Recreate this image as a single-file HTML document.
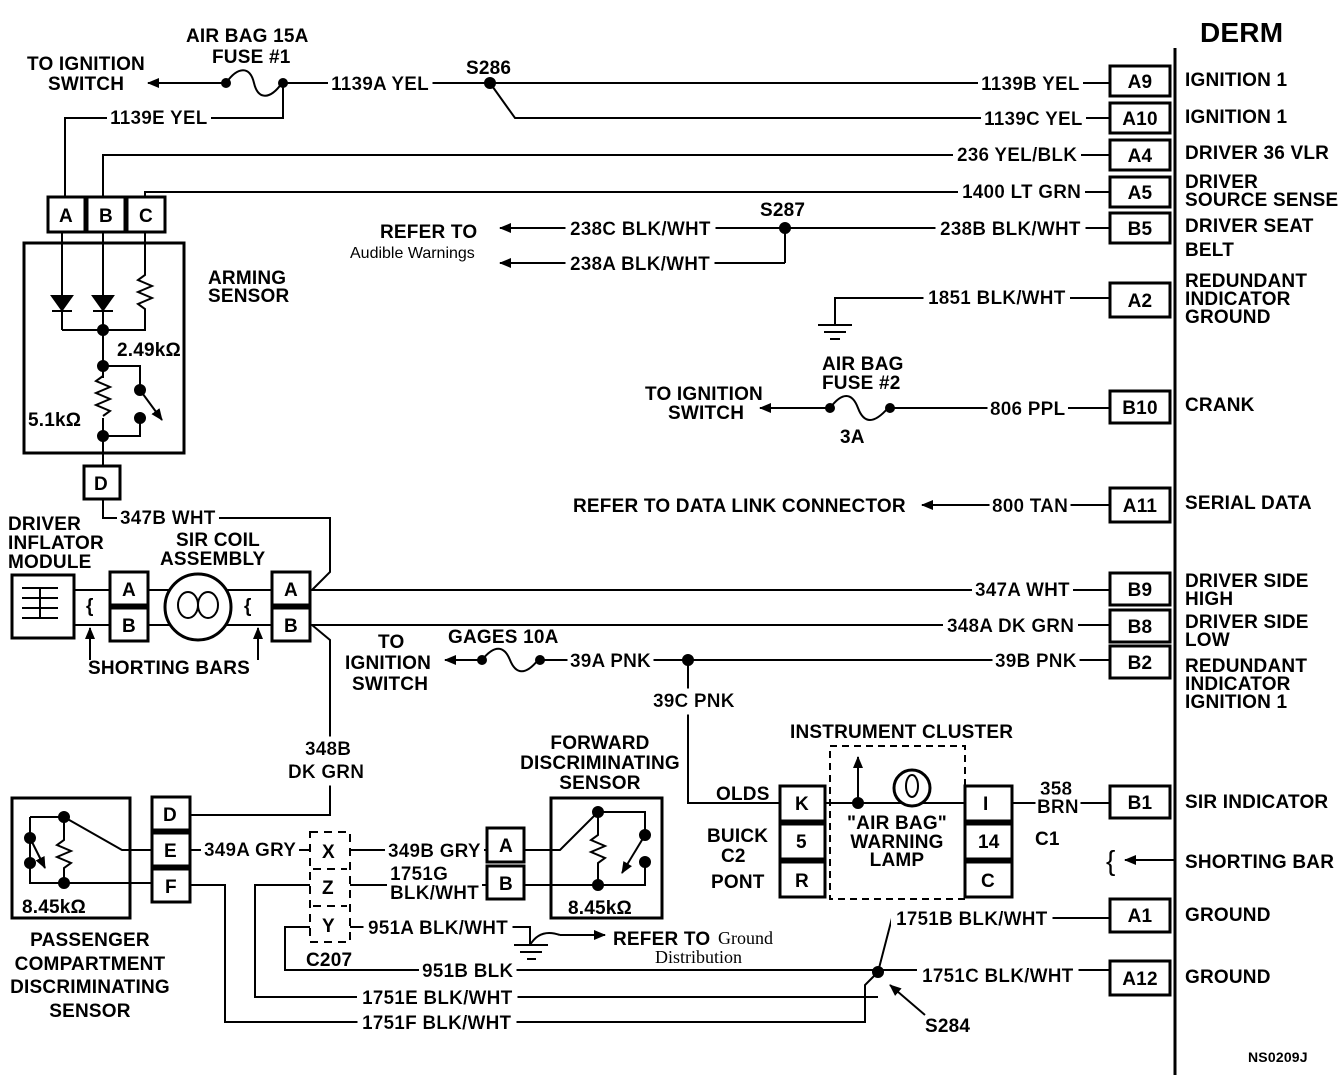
<!DOCTYPE html>
<html><head><meta charset="utf-8"><style>
html,body{margin:0;padding:0;background:#fff;}
svg{display:block}
text{font-family:"Liberation Sans",sans-serif;font-weight:bold;font-size:19px;fill:#000;letter-spacing:0.2px;}
.s{font-family:"Liberation Serif",serif;font-weight:normal;font-size:18px;letter-spacing:0}
line,path,rect,polyline,circle{stroke:#000;fill:none;stroke-width:2}
.b{stroke-width:3}
.f{fill:#000}
</style></head><body>
<svg width="1344" height="1080" viewBox="0 0 1344 1080">
<defs>
<marker id="ar" markerWidth="12" markerHeight="10" refX="11" refY="5" orient="auto" markerUnits="userSpaceOnUse"><path d="M0,0 L12,5 L0,10 Z" class="f" style="stroke:none"/></marker>
<filter id="bg" x="-0.03" y="-0.1" width="1.06" height="1.2"><feFlood flood-color="#fff"/><feComposite in="SourceGraphic"/></filter>
</defs>

<!-- DERM -->
<line x1="1175" y1="48" x2="1175" y2="1075" class="b"/>
<text x="1200" y="42" style="font-size:28px">DERM</text>
<rect x="1110" y="66" width="60" height="30" class="b"/>
<rect x="1110" y="103" width="60" height="30" class="b"/>
<rect x="1110" y="140" width="60" height="30" class="b"/>
<rect x="1110" y="177" width="60" height="30" class="b"/>
<rect x="1110" y="213" width="60" height="30" class="b"/>
<rect x="1110" y="283" width="60" height="34" class="b"/>
<rect x="1110" y="391" width="60" height="32" class="b"/>
<rect x="1110" y="488" width="60" height="34" class="b"/>
<rect x="1110" y="573" width="60" height="32" class="b"/>
<rect x="1110" y="610" width="60" height="32" class="b"/>
<rect x="1110" y="646" width="60" height="32" class="b"/>
<rect x="1110" y="786" width="60" height="32" class="b"/>
<rect x="1110" y="899" width="60" height="33" class="b"/>
<rect x="1110" y="961" width="60" height="34" class="b"/>
<g text-anchor="middle">
<text x="1140" y="88">A9</text><text x="1140" y="125">A10</text><text x="1140" y="162">A4</text>
<text x="1140" y="199">A5</text><text x="1140" y="235">B5</text><text x="1140" y="307">A2</text>
<text x="1140" y="414">B10</text><text x="1140" y="512">A11</text><text x="1140" y="596">B9</text>
<text x="1140" y="633">B8</text><text x="1140" y="669">B2</text><text x="1140" y="809">B1</text>
<text x="1140" y="922">A1</text><text x="1140" y="985">A12</text>
</g>
<text x="1185" y="86">IGNITION 1</text>
<text x="1185" y="123">IGNITION 1</text>
<text x="1185" y="159">DRIVER 36 VLR</text>
<text x="1185" y="188">DRIVER</text><text x="1185" y="206">SOURCE SENSE</text>
<text x="1185" y="232">DRIVER SEAT</text><text x="1185" y="256">BELT</text>
<text x="1185" y="287">REDUNDANT</text><text x="1185" y="305">INDICATOR</text><text x="1185" y="323">GROUND</text>
<text x="1185" y="411">CRANK</text>
<text x="1185" y="509">SERIAL DATA</text>
<text x="1185" y="587">DRIVER SIDE</text><text x="1185" y="605">HIGH</text>
<text x="1185" y="628">DRIVER SIDE</text><text x="1185" y="646">LOW</text>
<text x="1185" y="672">REDUNDANT</text><text x="1185" y="690">INDICATOR</text><text x="1185" y="708">IGNITION 1</text>
<text x="1185" y="808">SIR INDICATOR</text>
<text x="1185" y="868">SHORTING BAR</text>
<text x="1185" y="921">GROUND</text>
<text x="1185" y="983">GROUND</text>
<text x="1248" y="1062" style="font-size:14px">NS0209J</text>

<!-- top wires -->
<text x="186" y="42">AIR BAG 15A</text><text x="212" y="63">FUSE #1</text>
<text x="27" y="70">TO IGNITION</text><text x="48" y="90">SWITCH</text>
<line x1="222" y1="83" x2="148" y2="83" marker-end="url(#ar)"/>
<path d="M226,83 C238,66 250,66 254,83 S270,100 282,83"/>
<circle cx="226" cy="83" r="4" class="f"/><circle cx="283" cy="83" r="4" class="f"/>
<line x1="283" y1="83" x2="1110" y2="83"/>
<circle cx="490" cy="83" r="5" class="f"/>
<text x="466" y="74">S286</text>
<text x="331" y="90" filter="url(#bg)">1139A YEL</text>
<text x="981" y="90" filter="url(#bg)">1139B YEL</text>
<path d="M490,83 L515,118 H1110"/>
<text x="984" y="125" filter="url(#bg)">1139C YEL</text>
<path d="M283,83 V118 H65 V198"/>
<text x="110" y="124" filter="url(#bg)">1139E YEL</text>
<path d="M103,198 V155 H1110"/>
<text x="957" y="161" filter="url(#bg)">236 YEL/BLK</text>
<path d="M145,198 V192 H1110"/>
<text x="962" y="198" filter="url(#bg)">1400 LT GRN</text>

<!-- ABC connector & arming sensor -->
<rect x="48" y="197" width="37" height="35" class="b"/><rect x="87" y="197" width="38" height="35" class="b"/><rect x="127" y="197" width="38" height="35" class="b"/>
<text x="59" y="222">A</text><text x="99" y="222">B</text><text x="139" y="222">C</text>
<rect x="24" y="243" width="160" height="210" class="b"/>
<text x="208" y="284">ARMING</text><text x="208" y="302">SENSOR</text>
<line x1="62" y1="232" x2="62" y2="330"/><line x1="103" y1="232" x2="103" y2="465"/>
<path d="M145,232 V275 l-7,5 14,6 -14,6 14,6 -14,6 7,5 V330 H62"/>
<path d="M52,296 H72 L62,310 Z" class="f"/><line x1="52" y1="311" x2="72" y2="311"/>
<path d="M93,296 H113 L103,310 Z" class="f"/><line x1="93" y1="311" x2="113" y2="311"/>
<circle cx="103" cy="330" r="5" class="f"/>
<text x="117" y="356">2.49kΩ</text>
<circle cx="103" cy="366" r="5" class="f"/>
<path d="M103,366 H140 V387"/>
<circle cx="140" cy="390" r="5" class="f"/><line x1="140" y1="390" x2="162" y2="420" marker-end="url(#ar)"/>
<circle cx="140" cy="418" r="5" class="f"/>
<path d="M140,418 V436 H103"/>
<rect x="95" y="378" width="16" height="40" style="fill:#fff;stroke:none"/>
<path d="M103,376 l-7,5 14,6 -14,6 14,6 -14,6 14,6 -7,5"/>
<circle cx="103" cy="436" r="5" class="f"/>
<text x="28" y="426">5.1kΩ</text>
<rect x="84" y="466" width="36" height="33" class="b"/><text x="94" y="490">D</text>
<path d="M103,499 V518 H330 V572 L312,590"/>
<text x="120" y="524" filter="url(#bg)">347B WHT</text>

<!-- driver inflator / coil -->
<text x="8" y="530">DRIVER</text><text x="8" y="549">INFLATOR</text><text x="8" y="568">MODULE</text>
<rect x="12" y="575" width="62" height="63" class="b"/>
<path d="M22,588 H58 M22,598 H58 M22,608 H58 M22,618 H58 M40,588 V618" />
<path d="M74,590 H110 M74,625 H110"/>
<text x="86" y="612">{</text>
<rect x="110" y="572" width="38" height="33" class="b"/><rect x="110" y="608" width="38" height="33" class="b"/>
<text x="122" y="596">A</text><text x="122" y="632">B</text>
<path d="M148,590 H272 M148,625 H272"/>
<circle cx="198" cy="607" r="33" class="b" style="fill:#fff"/>
<ellipse cx="188" cy="605" rx="10" ry="13" style="stroke:#000;fill:none;stroke-width:2"/><ellipse cx="208" cy="605" rx="10" ry="13" style="stroke:#000;fill:none;stroke-width:2"/>
<text x="176" y="546">SIR COIL</text><text x="160" y="565">ASSEMBLY</text>
<text x="244" y="612">{</text>
<rect x="272" y="572" width="38" height="33" class="b"/><rect x="272" y="608" width="38" height="33" class="b"/>
<text x="284" y="596">A</text><text x="284" y="632">B</text>
<line x1="90" y1="660" x2="90" y2="628" marker-end="url(#ar)"/>
<line x1="258" y1="660" x2="258" y2="628" marker-end="url(#ar)"/>
<text x="88" y="674">SHORTING BARS</text>
<line x1="310" y1="590" x2="1110" y2="590"/>
<text x="975" y="596" filter="url(#bg)">347A WHT</text>
<path d="M310,625 H1110 M312,625 L330,640 V815 H190"/>
<text x="947" y="632" filter="url(#bg)">348A DK GRN</text>
<text x="305" y="755" filter="url(#bg)">348B</text><text x="288" y="778" filter="url(#bg)">DK GRN</text>

<!-- 238 -->
<text x="760" y="216">S287</text>
<line x1="785" y1="228" x2="1110" y2="228"/>
<line x1="785" y1="228" x2="500" y2="228" marker-end="url(#ar)"/>
<path d="M785,228 V263"/><line x1="785" y1="263" x2="500" y2="263" marker-end="url(#ar)"/>
<circle cx="785" cy="228" r="5" class="f"/>
<text x="570" y="235" filter="url(#bg)">238C BLK/WHT</text>
<text x="570" y="270" filter="url(#bg)">238A BLK/WHT</text>
<text x="940" y="235" filter="url(#bg)">238B BLK/WHT</text>
<text x="380" y="238">REFER TO</text>
<text x="350" y="258" style="font-size:16px;font-weight:normal;letter-spacing:0">Audible Warnings</text>

<!-- 1851 ground -->
<path d="M835,325 V298 H1110"/>
<path d="M818,325 H852 M824,332 H846 M830,339 H840"/>
<text x="928" y="304" filter="url(#bg)">1851 BLK/WHT</text>

<!-- 806 -->
<text x="822" y="370">AIR BAG</text><text x="822" y="389">FUSE #2</text><text x="840" y="443">3A</text>
<line x1="828" y1="408" x2="760" y2="408" marker-end="url(#ar)"/>
<path d="M830,408 C842,392 852,392 858,408 S874,424 888,408"/>
<circle cx="830" cy="408" r="4" class="f"/><circle cx="890" cy="408" r="4" class="f"/>
<line x1="890" y1="408" x2="1110" y2="408"/>
<text x="990" y="415" filter="url(#bg)">806 PPL</text>
<text x="645" y="400">TO IGNITION</text><text x="668" y="419">SWITCH</text>

<!-- 800 -->
<line x1="1110" y1="505" x2="922" y2="505" marker-end="url(#ar)"/>
<text x="992" y="512" filter="url(#bg)">800 TAN</text>
<text x="573" y="512">REFER TO DATA LINK CONNECTOR</text>

<!-- 39 -->
<text x="378" y="648">TO</text><text x="345" y="669">IGNITION</text><text x="352" y="690">SWITCH</text>
<text x="448" y="643">GAGES 10A</text>
<line x1="480" y1="660" x2="445" y2="660" marker-end="url(#ar)"/>
<path d="M482,660 C494,645 504,645 510,660 S526,675 538,660"/>
<circle cx="482" cy="660" r="4" class="f"/><circle cx="540" cy="660" r="4" class="f"/>
<line x1="540" y1="660" x2="1110" y2="660"/>
<circle cx="688" cy="660" r="5" class="f"/>
<text x="570" y="667" filter="url(#bg)">39A PNK</text>
<text x="995" y="667" filter="url(#bg)">39B PNK</text>
<path d="M688,660 V803 H780"/>
<text x="653" y="707" filter="url(#bg)">39C PNK</text>

<!-- instrument cluster -->
<text x="790" y="738">INSTRUMENT CLUSTER</text>
<rect x="830" y="746" width="135" height="153" style="stroke-dasharray:7,5"/>
<rect x="780" y="786" width="45" height="35" class="b"/><rect x="780" y="824" width="45" height="35" class="b"/><rect x="780" y="862" width="45" height="35" class="b"/>
<text x="795" y="810">K</text><text x="796" y="848">5</text><text x="795" y="887">R</text>
<text x="716" y="800">OLDS</text><text x="707" y="842">BUICK</text><text x="721" y="862">C2</text><text x="711" y="888">PONT</text>
<line x1="825" y1="803" x2="965" y2="803"/>
<circle cx="858" cy="803" r="5" class="f"/>
<line x1="858" y1="803" x2="858" y2="757" marker-end="url(#ar)"/>
<circle cx="912" cy="788" r="18" class="b" style="fill:#fff"/>
<ellipse cx="912" cy="786" rx="6" ry="11" style="stroke:#000;fill:none;stroke-width:2"/>
<text x="897" y="829" text-anchor="middle">"AIR BAG"</text><text x="897" y="848" text-anchor="middle">WARNING</text><text x="897" y="866" text-anchor="middle">LAMP</text>
<rect x="965" y="786" width="47" height="35" class="b"/><rect x="965" y="824" width="47" height="35" class="b"/><rect x="965" y="862" width="47" height="35" class="b"/>
<text x="983" y="810">I</text><text x="978" y="848">14</text><text x="981" y="887">C</text>
<line x1="1012" y1="803" x2="1110" y2="803"/>
<text x="1040" y="795" filter="url(#bg)">358</text><text x="1037" y="813" filter="url(#bg)">BRN</text>
<text x="1035" y="845">C1</text>
<text x="1106" y="870" style="font-size:28px;font-weight:normal">{</text>
<line x1="1175" y1="860" x2="1125" y2="860" marker-end="url(#ar)"/>

<!-- passenger sensor -->
<rect x="12" y="798" width="118" height="120" class="b"/>
<path d="M30,817 H64 L122,850 H152 M64,817 V840 l-7,5 14,6 -14,6 14,6 -7,5 V883 H30 V817 M30,883 H152"/>
<circle cx="30" cy="838" r="5" class="f"/><circle cx="30" cy="863" r="5" class="f"/>
<line x1="30" y1="838" x2="45" y2="868" marker-end="url(#ar)"/>
<circle cx="64" cy="817" r="5" class="f"/><circle cx="64" cy="883" r="5" class="f"/>
<text x="22" y="913">8.45kΩ</text>
<rect x="152" y="797" width="38" height="33" class="b"/><rect x="152" y="833" width="38" height="33" class="b"/><rect x="152" y="869" width="38" height="33" class="b"/>
<text x="163" y="821">D</text><text x="164" y="857">E</text><text x="165" y="893">F</text>
<g text-anchor="middle"><text x="90" y="946">PASSENGER</text><text x="90" y="970">COMPARTMENT</text><text x="90" y="993">DISCRIMINATING</text><text x="90" y="1017">SENSOR</text></g>

<!-- C207 -->
<rect x="310" y="832" width="40" height="110" style="stroke-dasharray:8,6"/>
<line x1="313" y1="869" x2="347" y2="869" style="stroke-dasharray:8,6"/><line x1="313" y1="906" x2="347" y2="906" style="stroke-dasharray:8,6"/>
<text x="322" y="858">X</text><text x="322" y="894">Z</text><text x="322" y="932">Y</text>
<text x="306" y="966">C207</text>
<path d="M190,850 H310 M350,850 H487 M350,885 H487 M350,927 H525"/>
<text x="204" y="856" filter="url(#bg)">349A GRY</text>
<text x="388" y="857" filter="url(#bg)">349B GRY</text>
<text x="390" y="880" filter="url(#bg)">1751G</text><text x="390" y="899" filter="url(#bg)">BLK/WHT</text>
<text x="368" y="934" filter="url(#bg)">951A BLK/WHT</text>
<path d="M520,927 H530 V945 M514,945 H548 M520,952 H542 M527,959 H536"/>
<path d="M530,945 Q540,928 560,935" />
<line x1="560" y1="935" x2="605" y2="935" marker-end="url(#ar)"/>
<text x="613" y="945">REFER TO</text><text x="718" y="944" class="s">Ground</text>
<text x="655" y="963" class="s">Distribution</text>
<path d="M310,927 H285 V970 H1110"/>
<text x="422" y="977" filter="url(#bg)">951B BLK</text>
<path d="M310,885 H255 V997 H878"/>
<text x="362" y="1004" filter="url(#bg)">1751E BLK/WHT</text>
<path d="M190,885 H225 V1022 H865 V985 L878,972"/>
<text x="362" y="1029" filter="url(#bg)">1751F BLK/WHT</text>
<path d="M878,972 L892,918 H1110"/>
<circle cx="878" cy="972" r="5" class="f"/>
<text x="896" y="925" filter="url(#bg)">1751B BLK/WHT</text>
<text x="922" y="982" filter="url(#bg)">1751C BLK/WHT</text>
<line x1="925" y1="1015" x2="890" y2="985" marker-end="url(#ar)"/>
<text x="925" y="1032">S284</text>

<!-- forward sensor -->
<g text-anchor="middle"><text x="600" y="749">FORWARD</text><text x="600" y="769">DISCRIMINATING</text><text x="600" y="789">SENSOR</text></g>
<rect x="487" y="828" width="37" height="34" class="b"/><rect x="487" y="866" width="37" height="33" class="b"/>
<text x="499" y="852">A</text><text x="499" y="890">B</text>
<rect x="551" y="798" width="111" height="120" class="b"/>
<path d="M524,850 H560 L598,812 H645 V833 M598,812 V835 l-7,5 14,6 -14,6 14,6 -7,5 V885 H645 V863 M524,885 H598"/>
<circle cx="598" cy="812" r="5" class="f"/><circle cx="598" cy="885" r="5" class="f"/>
<circle cx="645" cy="835" r="5" class="f"/><circle cx="645" cy="862" r="5" class="f"/>
<line x1="645" y1="835" x2="622" y2="873" marker-end="url(#ar)"/>
<text x="568" y="914">8.45kΩ</text>
</svg>
</body></html>
